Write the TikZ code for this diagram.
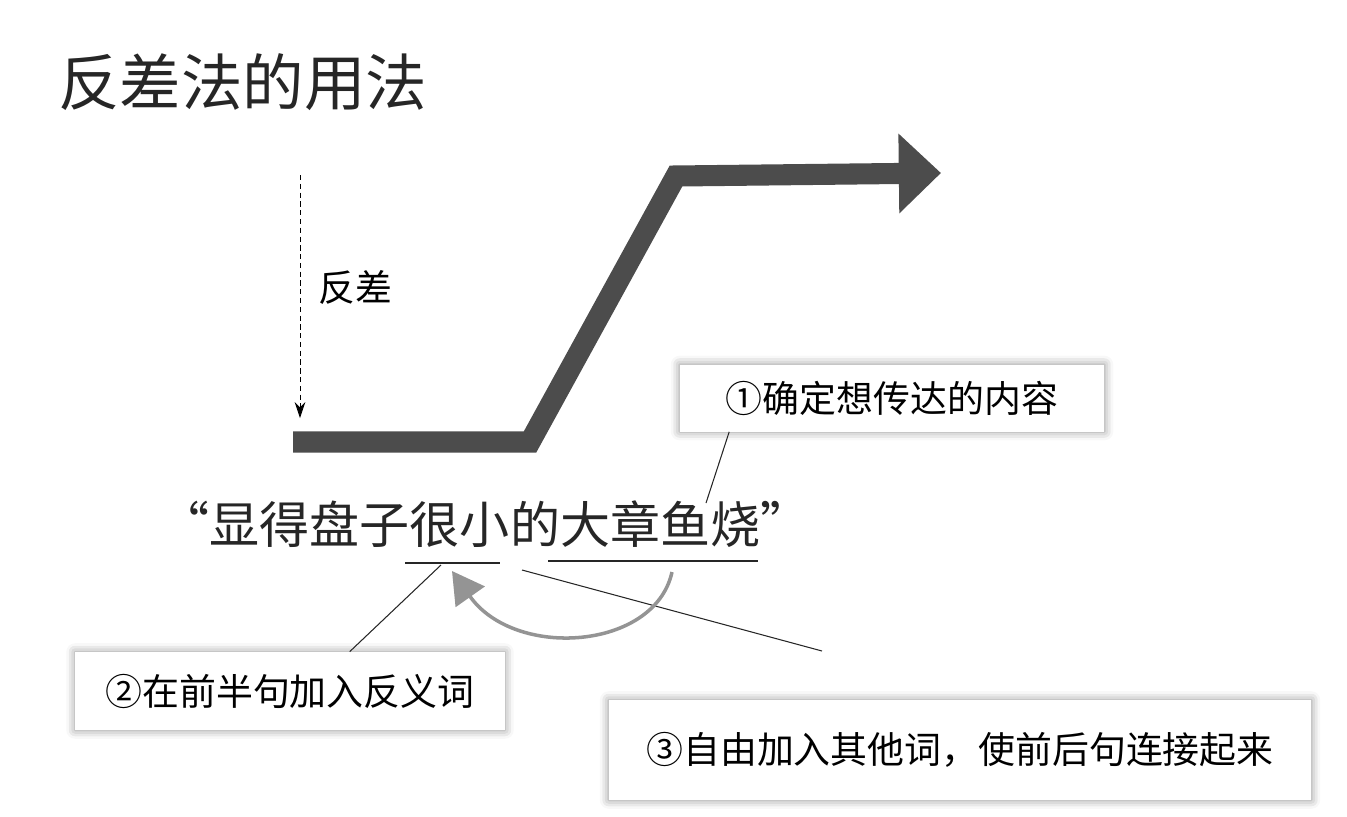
\documentclass[tikz,border=0pt]{standalone}
\usepackage{fontspec}
\setmainfont{Noto Sans CJK SC}
\usepackage{tikz}
\usetikzlibrary{arrows.meta}
\usetikzlibrary{shadows.blur}
\usetikzlibrary{positioning}
\tikzset{labelbox/.style = {fill=white, inner sep=0, font=\fontsize{21}{25}\selectfont,
    blur shadow={shadow xshift=0pt, shadow yshift=0pt, shadow blur radius=5pt,
      shadow blur extra rounding=0pt, shadow opacity=45}}}
\tikzset{pointer/.style = {line width=0.6pt, black!85}}
\definecolor{mgray}{rgb}{0.3, 0.3, 0.3}
\definecolor{lgray}{rgb}{0.58, 0.58, 0.58}

\begin{document}
\begin{tikzpicture}[x=0.02cm, y=-0.02cm]
    \useasboundingbox (0, 0) rectangle (1347, 816);

    \node [anchor=west, font=\fontsize{35}{41}\selectfont, black!85] (title) at (52, 82) {反差法的用法};

    % the step
    \coordinate (start) at (293, 442);
    \coordinate (low) at (530, 442);
    \coordinate (high) at (676, 176);
    \coordinate (tip) at (941, 173);
    \draw [mgray, line width=12pt, line join=miter,
      -{Triangle[width=44pt, length=24pt]}] (start) -- (low) -- (high) -- (tip);

    \coordinate (dtop) at (300, 175);
    \coordinate (dbot) at (300, 418);
    \draw [densely dashed, line width=0.5pt, -{Stealth[length=9pt, width=6pt]}] (dtop) -- (dbot);
    \node [anchor=west, font=\fontsize{21}{25}\selectfont] (contrast) at (312, 287) {反差};

    % the phrase
    \node [font=\fontsize{28.5}{34}\selectfont, black!85] (phrase) at (485, 524)
      {“显得盘子很小的大章鱼烧”};
    \coordinate (smallL) at (405, 563);
    \coordinate (smallR) at (500, 563);
    \coordinate (bigL) at (548, 561);
    \coordinate (bigR) at (758, 561);
    \draw [pointer] (smallL) -- (smallR);
    \draw [pointer] (bigL) -- (bigR);

    % the boxes
    \node [labelbox, minimum width=8.5cm, minimum height=1.34cm] (box1) at (892, 398)
      {①确定想传达的内容};
    \node [labelbox, minimum width=8.6cm, minimum height=1.56cm] (box2) at (290, 691)
      {②在前半句加入反义词};
    \node [labelbox, minimum width=14.06cm, minimum height=2cm] (box3) at (960, 750)
      {③自由加入其他词，使前后句连接起来};

    % pointers
    \coordinate (yu) at (706, 503);
    \coordinate (smallM) at (441, 565);
    \coordinate (gapM) at (522, 570);
    \coordinate (loose) at (822, 651);
    \draw [pointer] (box1.south west) ++(50, 0) -- (yu);
    \draw [pointer] (box2.north west) ++(275, 0) -- (smallM);
    \draw [pointer] (gapM) -- (loose);

    \coordinate (from) at (672, 572);
    \coordinate (to) at (452, 571);
    \draw [lgray, line width=2pt, -{Triangle[width=20pt, length=18pt]}]
      (from) .. controls (655, 650) and (515, 660) .. (to);
\end{tikzpicture}
\end{document}
